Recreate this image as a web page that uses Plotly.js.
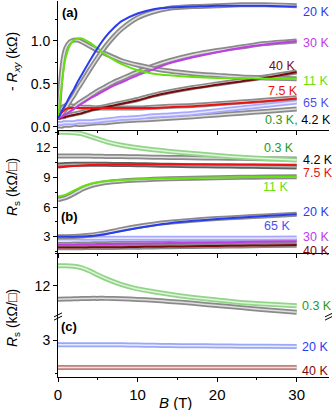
<!DOCTYPE html>
<html>
<head>
<meta charset="utf-8">
<script src="https://cdn.plot.ly/plotly-3.0.1.min.js"></script>
<style>
  html, body { margin: 0; padding: 0; background: #fff; }
  #chart { width: 332px; height: 410px; }
</style>
</head>
<body>
<div id="chart"></div>
<script>
// panel (a): -Rxy (kOhm) vs B (T)
const Ba = [0, 0.25, 0.5, 0.75, 1, 1.5, 2, 2.5, 3, 4, 5, 6, 7, 8, 10, 12, 14, 17, 20, 23, 26, 30];
const a20fit = [0.10, 0.14, 0.19, 0.23, 0.27, 0.36, 0.44, 0.53, 0.61, 0.77, 0.92, 1.05, 1.15, 1.23, 1.32, 1.37, 1.39, 1.40, 1.41, 1.41, 1.41, 1.40];
const a20dat = [0.10, 0.12, 0.15, 0.18, 0.22, 0.30, 0.37, 0.45, 0.52, 0.67, 0.81, 0.94, 1.05, 1.14, 1.27, 1.34, 1.38, 1.40, 1.41, 1.42, 1.42, 1.41];
const a11fit = [0.10, 0.30, 0.52, 0.70, 0.82, 0.95, 1.01, 1.03, 1.03, 0.98, 0.91, 0.84, 0.78, 0.73, 0.66, 0.62, 0.60, 0.58, 0.57, 0.57, 0.56, 0.56];
const a11dat = [0.10, 0.43, 0.68, 0.84, 0.92, 0.99, 1.01, 1.01, 0.99, 0.94, 0.89, 0.85, 0.81, 0.77, 0.72, 0.68, 0.65, 0.62, 0.60, 0.58, 0.57, 0.56];
const a30fit = [0.10, 0.11, 0.12, 0.14, 0.15, 0.18, 0.21, 0.24, 0.27, 0.33, 0.38, 0.43, 0.48, 0.52, 0.60, 0.67, 0.74, 0.81, 0.87, 0.92, 0.96, 1.00];
const a30dat = [0.10, 0.12, 0.13, 0.15, 0.17, 0.20, 0.23, 0.27, 0.30, 0.36, 0.42, 0.47, 0.52, 0.56, 0.64, 0.71, 0.77, 0.84, 0.89, 0.93, 0.97, 1.00];
const a40fit = [0.10, 0.10, 0.11, 0.11, 0.12, 0.13, 0.14, 0.15, 0.16, 0.19, 0.21, 0.23, 0.25, 0.27, 0.31, 0.36, 0.40, 0.45, 0.49, 0.53, 0.57, 0.64];
const a40dat = [0.11, 0.11, 0.12, 0.12, 0.13, 0.14, 0.15, 0.16, 0.17, 0.20, 0.22, 0.24, 0.26, 0.28, 0.32, 0.37, 0.41, 0.46, 0.50, 0.54, 0.58, 0.64];
const a75fit = [0.10, 0.14, 0.17, 0.19, 0.21, 0.22, 0.22, 0.22, 0.22, 0.22, 0.22, 0.22, 0.22, 0.22, 0.22, 0.22, 0.23, 0.24, 0.26, 0.28, 0.30, 0.33];
const a75dat = [0.10, 0.17, 0.22, 0.24, 0.25, 0.25, 0.24, 0.24, 0.23, 0.23, 0.22, 0.22, 0.22, 0.22, 0.22, 0.23, 0.24, 0.25, 0.27, 0.29, 0.31, 0.34];
const a65dat = [0.04, 0.04, 0.04, 0.05, 0.05, 0.05, 0.05, 0.06, 0.06, 0.06, 0.07, 0.08, 0.09, 0.10, 0.11, 0.13, 0.14, 0.16, 0.19, 0.22, 0.25, 0.29];
const a42dat = [0.01, 0.01, 0.01, 0.02, 0.02, 0.02, 0.03, 0.03, 0.03, 0.04, 0.05, 0.05, 0.06, 0.07, 0.08, 0.09, 0.10, 0.12, 0.14, 0.16, 0.18, 0.21];

// panel (b): Rs (kOhm/sq) vs B (T)
const Bb = [0, 1, 2, 3, 4, 5, 6, 8, 10, 12, 14, 17, 20, 23, 26, 30];
const b03dat = [13.55, 13.55, 13.5, 13.4, 13.15, 12.88, 12.62, 12.25, 12.0, 11.8, 11.62, 11.4, 11.2, 11.03, 10.9, 10.75];
const b42dat = [11.15, 11.16, 11.17, 11.16, 11.15, 11.13, 11.12, 11.1, 11.07, 11.04, 11.01, 10.98, 10.95, 10.92, 10.89, 10.85];
const b75dat = [10.25, 10.3, 10.32, 10.33, 10.33, 10.33, 10.32, 10.3, 10.28, 10.25, 10.22, 10.18, 10.15, 10.12, 10.1, 10.05];
const b75fit = [10.0, 10.08, 10.15, 10.2, 10.24, 10.27, 10.28, 10.3, 10.3, 10.3, 10.3, 10.3, 10.3, 10.3, 10.29, 10.28];
const b11fit = [7.05, 7.25, 7.65, 8.05, 8.33, 8.5, 8.6, 8.72, 8.8, 8.85, 8.89, 8.94, 8.98, 9.01, 9.04, 9.07];
const b11dat = [6.75, 6.95, 7.35, 7.8, 8.12, 8.33, 8.47, 8.63, 8.73, 8.8, 8.85, 8.91, 8.96, 9.0, 9.03, 9.06];
const b20fit = [3.0, 3.0, 3.0, 3.02, 3.06, 3.15, 3.28, 3.58, 3.88, 4.14, 4.36, 4.6, 4.78, 4.94, 5.08, 5.27];
const b20dat = [3.0, 3.0, 3.02, 3.07, 3.14, 3.26, 3.4, 3.74, 4.03, 4.27, 4.46, 4.67, 4.83, 4.97, 5.1, 5.27];
const b65dat = [2.86, 2.86, 2.86, 2.85, 2.85, 2.85, 2.85, 2.84, 2.84, 2.84, 2.84, 2.84, 2.84, 2.84, 2.85, 2.86];
const b30fit = [2.2, 2.21, 2.22, 2.23, 2.24, 2.25, 2.26, 2.28, 2.3, 2.33, 2.35, 2.39, 2.43, 2.46, 2.5, 2.55];
const b30dat = [2.23, 2.24, 2.25, 2.26, 2.27, 2.28, 2.29, 2.31, 2.33, 2.36, 2.38, 2.42, 2.46, 2.49, 2.53, 2.57];
const b40fit = [1.9, 1.9, 1.91, 1.91, 1.92, 1.92, 1.93, 1.94, 1.96, 1.98, 2.0, 2.03, 2.06, 2.09, 2.12, 2.16];
const b40dat = [1.88, 1.88, 1.89, 1.89, 1.9, 1.9, 1.91, 1.92, 1.94, 1.96, 1.98, 2.01, 2.04, 2.07, 2.1, 2.14];

// panel (c): Rs, broken axis
const Bc = [0, 1, 2, 3, 4, 5, 6, 8, 10, 12, 14, 17, 20, 23, 26, 30];
const c03 = [12.93, 12.93, 12.9, 12.83, 12.68, 12.5, 12.33, 12.05, 11.85, 11.72, 11.6, 11.45, 11.33, 11.22, 11.15, 11.07];
const c42 = [11.37, 11.38, 11.39, 11.4, 11.41, 11.41, 11.41, 11.39, 11.36, 11.32, 11.27, 11.18, 11.08, 10.98, 10.88, 10.76];
const c20 = [2.81, 2.81, 2.81, 2.81, 2.81, 2.8, 2.8, 2.8, 2.79, 2.78, 2.77, 2.76, 2.75, 2.74, 2.74, 2.73];
const c40 = [1.76, 1.76, 1.76, 1.76, 1.76, 1.76, 1.76, 1.76, 1.76, 1.76, 1.76, 1.76, 1.76, 1.76, 1.76, 1.76];

const BLUE = '#2a3cf0', PURPLE = '#c03ce8', BROWN = '#7a0a0a', RED = '#ee1111';
const LIME = '#66e010', DKGREEN = '#2a9a1a', LAV = '#5050ee';

function band(x, y, xa, ya, outer, inner) {
  return [
    {x: x, y: y, xaxis: xa, yaxis: ya, mode: 'lines', hoverinfo: 'skip',
     line: {color: outer, width: 5, shape: 'spline', smoothing: 0.6}},
    {x: x, y: y, xaxis: xa, yaxis: ya, mode: 'lines', hoverinfo: 'skip',
     line: {color: inner, width: 1.5, shape: 'spline', smoothing: 0.6}}
  ];
}
function fit(x, y, xa, ya, color) {
  return {x: x, y: y, xaxis: xa, yaxis: ya, mode: 'lines', hoverinfo: 'skip',
          line: {color: color, width: 2, shape: 'spline', smoothing: 0.6}};
}

const G1 = '#8a8a8a', G2 = '#dedede';
let data = [];
// (a) on x4/y4
data = data.concat(band(Ba, a42dat, 'x4', 'y4', G1, G2));
data = data.concat(band(Ba, a65dat, 'x4', 'y4', '#a8a8ff', '#e6e6ff'));
data = data.concat(band(Ba, a40dat, 'x4', 'y4', G1, G2));
data = data.concat(band(Ba, a75dat, 'x4', 'y4', G1, G2));
data = data.concat(band(Ba, a30dat, 'x4', 'y4', G1, G2));
data = data.concat(band(Ba, a11dat, 'x4', 'y4', G1, G2));
data = data.concat(band(Ba, a20dat, 'x4', 'y4', G1, G2));
data.push(fit(Ba, a40fit, 'x4', 'y4', BROWN));
data.push(fit(Ba, a75fit, 'x4', 'y4', RED));
data.push(fit(Ba, a30fit, 'x4', 'y4', PURPLE));
data.push(fit(Ba, a11fit, 'x4', 'y4', LIME));
data.push(fit(Ba, a20fit, 'x4', 'y4', BLUE));
// (b) on x3/y3
data = data.concat(band(Bb, b40dat, 'x3', 'y3', G1, G2));
data = data.concat(band(Bb, b30dat, 'x3', 'y3', G1, G2));
data = data.concat(band(Bb, b65dat, 'x3', 'y3', '#a8a8ff', '#e6e6ff'));
data = data.concat(band(Bb, b20dat, 'x3', 'y3', G1, G2));
data = data.concat(band(Bb, b11dat, 'x3', 'y3', G1, G2));
data = data.concat(band(Bb, b75dat, 'x3', 'y3', '#606060', '#b0b0b0'));
data = data.concat(band(Bb, b42dat, 'x3', 'y3', G1, G2));
data = data.concat(band(Bb, b03dat, 'x3', 'y3', '#92d488', '#e0f5dc'));
data.push(fit(Bb, b40fit, 'x3', 'y3', BROWN));
data.push(fit(Bb, b30fit, 'x3', 'y3', PURPLE));
data.push(fit(Bb, b20fit, 'x3', 'y3', BLUE));
data.push(fit(Bb, b11fit, 'x3', 'y3', LIME));
data.push(fit(Bb, b75fit, 'x3', 'y3', RED));
// (c) upper on x2/y2, lower on x/y
data = data.concat(band(Bc, c03, 'x2', 'y2', '#92d488', '#e0f5dc'));
data = data.concat(band(Bc, c42, 'x2', 'y2', G1, G2));
data = data.concat(band(Bc, c20, 'x', 'y', '#9aa8f5', '#e6eaff'));
data = data.concat(band(Bc, c40, 'x', 'y', '#c08080', '#f2e0e0'));

const FONT = 'Liberation Sans, Arial, sans-serif';
const XR = [0, 34.06];
const ax = {showgrid: false, zeroline: false, showline: true, linecolor: '#000', linewidth: 1,
            ticks: 'outside', ticklen: 4, tickcolor: '#000', fixedrange: true};
const yMinor = {ticks: 'outside', ticklen: 2, tickcolor: '#000', dtick: 1.5};

function xax(anchor, extra) {
  return Object.assign({}, ax, {anchor: anchor, range: XR, dtick: 10, tick0: 0,
    minor: {ticks: 'outside', ticklen: 2, tickcolor: '#000', dtick: 5}}, extra);
}
function yax(domain, range, dtick, extra) {
  return Object.assign({}, ax, {domain: domain, range: range, dtick: dtick, tick0: 0,
    tickfont: {size: 14}, minor: Object.assign({}, yMinor, {dtick: dtick / 2})}, extra);
}
function twin(over, anchor, range, dtick) {
  return {overlaying: over, side: 'right', anchor: anchor, range: range, dtick: dtick, tick0: 0,
    showgrid: false, zeroline: false, showline: true, linecolor: '#000', ticks: 'inside',
    ticklen: 4, tickcolor: '#000', showticklabels: false, fixedrange: true,
    minor: {ticks: 'inside', ticklen: 2, tickcolor: '#000', dtick: dtick / 2}};
}

const dA = [0.657, 1], dB = [0.3298, 0.657], dCu = [0.1622, 0.3298], dCl = [0, 0.1622];
const rA = [-0.035, 1.465], rB = [1.35, 13.79], rCu = [10.59, 13.52], rCl = [1.33, 4.12];

function px2x(px) { return (px - 58) / 271; }
function py2y(py) { return (377 - py) / 376; }

function lab(text, x, y, yref, color, anchor) {
  return {text: text, x: x, y: y, xref: 'x', yref: yref, showarrow: false,
          xanchor: anchor || 'left', yanchor: 'middle', font: {size: 12.5, color: color}};
}

const annotations = [
  // panel (a)
  lab('20 K', 30.5, 1.34, 'y4', BLUE),
  lab('30 K', 30.5, 0.98, 'y4', PURPLE),
  lab('40 K', 26.3, 0.71, 'y4', BROWN),
  lab('11 K', 30.5, 0.535, 'y4', LIME),
  lab('7.5 K', 26.1, 0.42, 'y4', RED),
  lab('65 K', 30.5, 0.28, 'y4', LAV),
  lab('<span style="color:' + DKGREEN + '">0.3 K,</span> 4.2 K', 25.8, 0.08, 'y4', '#000'),
  // panel (b)
  lab('0.3 K', 25.7, 11.94, 'y3', DKGREEN),
  lab('4.2 K', 30.5, 10.76, 'y3', '#000'),
  lab('7.5 K', 30.5, 9.41, 'y3', RED),
  lab('11 K', 25.5, 8.06, 'y3', LIME),
  lab('20 K', 30.5, 5.47, 'y3', BLUE),
  lab('65 K', 25.7, 4.11, 'y3', LAV),
  lab('30 K', 30.5, 3.0, 'y3', PURPLE),
  lab('40 K', 30.5, 1.6, 'y3', BROWN),
  // panel (c)
  lab('0.3 K', 30.4, 11.07, 'y2', DKGREEN),
  lab('4.2 K', 30.4, 10.40, 'y2', '#000'),
  lab('20 K', 30.4, 2.69, 'y', BLUE),
  lab('40 K', 30.4, 1.60, 'y', BROWN),
  // panel letters
  {text: '<b>(a)</b>', x: px2x(60), y: py2y(12), xref: 'paper', yref: 'paper', showarrow: false,
   xanchor: 'left', yanchor: 'middle', font: {size: 13}},
  {text: '<b>(b)</b>', x: px2x(59), y: py2y(216), xref: 'paper', yref: 'paper', showarrow: false,
   xanchor: 'left', yanchor: 'middle', font: {size: 13}},
  {text: '<b>(c)</b>', x: px2x(59), y: py2y(326), xref: 'paper', yref: 'paper', showarrow: false,
   xanchor: 'left', yanchor: 'middle', font: {size: 13}},
  // axis titles
  {text: '- <i>R</i><sub><i>xy</i></sub> (kΩ)', x: px2x(13), y: py2y(62), xref: 'paper', yref: 'paper',
   showarrow: false, textangle: -90, xanchor: 'center', yanchor: 'middle', font: {size: 14}},
  {text: '<i>R</i><sub>s</sub> (kΩ/□)', x: px2x(13), y: py2y(187), xref: 'paper', yref: 'paper',
   showarrow: false, textangle: -90, xanchor: 'center', yanchor: 'middle', font: {size: 14}},
  {text: '<i>R</i><sub>s</sub> (kΩ/□)', x: px2x(13), y: py2y(318), xref: 'paper', yref: 'paper',
   showarrow: false, textangle: -90, xanchor: 'center', yanchor: 'middle', font: {size: 14}},
  {text: '<i>B</i> (T)', x: px2x(175), y: py2y(403), xref: 'paper', yref: 'paper',
   showarrow: false, xanchor: 'center', yanchor: 'middle', font: {size: 15}}
];

// break marks on the (c) axis
const brk = py2y(316.5), dxp = 4 / 271, dyp = 1 / 376;
const shapes = [];
[0, 1].forEach(function (xp) {
  [-1.6, 1.6].forEach(function (off) {
    shapes.push({type: 'line', xref: 'paper', yref: 'paper',
      x0: xp - dxp, x1: xp + dxp, y0: brk + (off - 2) * dyp, y1: brk + (off + 2) * dyp,
      line: {color: '#000', width: 1}});
  });
});

const layout = {
  width: 332, height: 410,
  margin: {l: 58, r: 3, t: 1, b: 33, pad: 0},
  paper_bgcolor: '#fff', plot_bgcolor: 'rgba(0,0,0,0)',
  showlegend: false,
  font: {family: FONT, size: 14, color: '#000'},
  xaxis: xax('y', {tickfont: {size: 15}}),
  xaxis2: xax('y2', {showline: false, ticks: '', showticklabels: false, minor: {ticks: ''}}),
  xaxis3: xax('y3', {showticklabels: false}),
  xaxis4: xax('y4', {showticklabels: false}),
  xaxis5: {overlaying: 'x4', side: 'top', anchor: 'y4', range: XR, dtick: 10, tick0: 0,
    showgrid: false, zeroline: false, showline: true, linecolor: '#000', ticks: 'inside',
    ticklen: 4, tickcolor: '#000', showticklabels: false, fixedrange: true,
    minor: {ticks: 'inside', ticklen: 2, tickcolor: '#000', dtick: 5}},
  yaxis: yax(dCl, rCl, 3, {anchor: 'x'}),
  yaxis2: yax(dCu, rCu, 3, {anchor: 'x2'}),
  yaxis3: yax(dB, rB, 3, {anchor: 'x3', tickfont: {size: 13}}),
  yaxis4: yax(dA, rA, 0.5, {anchor: 'x4', tickformat: '.1f'}),
  yaxis5: twin('y', 'x', rCl, 3),
  yaxis6: twin('y2', 'x2', rCu, 3),
  yaxis7: twin('y3', 'x3', rB, 3),
  yaxis8: twin('y4', 'x4', rA, 0.5),
  annotations: annotations,
  shapes: shapes
};

Plotly.newPlot('chart', data, layout, {staticPlot: true, displayModeBar: false});
</script>
</body>
</html>
